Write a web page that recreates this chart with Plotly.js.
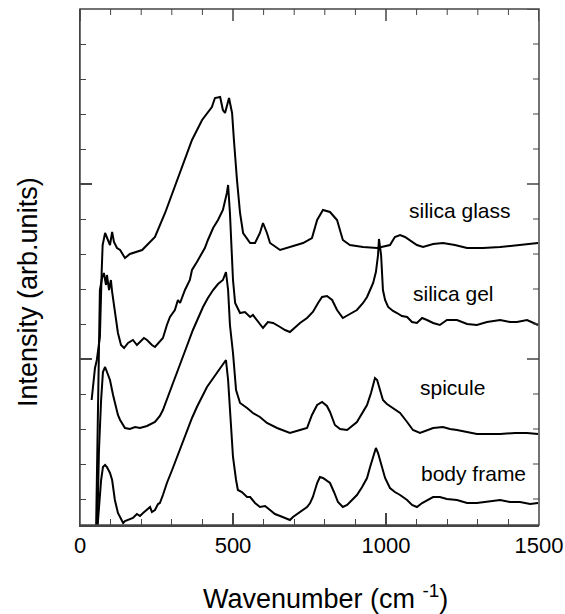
<!DOCTYPE html>
<html>
<head>
<meta charset="utf-8">
<script src="https://cdn.plot.ly/plotly-3.0.1.min.js"></script>
<style>html,body{margin:0;padding:0;background:#fff;}#chart{width:565px;height:614px;}</style>
</head>
<body>
<div id="chart"></div>
<script>
// Wavenumber (cm-1) and intensity (arb. units, offset spectra)
const glassWn = [38,49,55,65,71,74,82,88,92,98,105,111,121,131,147,163,203,245,278,310,333,366,399,431,441,458,467,474,487,497,503,510,513,523,533,556,572,588,598,611,621,654,686,729,758,775,794,817,840,859,882,925,971,1013,1029,1046,1062,1078,1101,1121,1154,1186,1225,1265,1317,1373,1438,1497];
const glassI  = [134,166,174,197,264,289,301,296,294,289,302,292,286,284,276,280,284,297,321,347,367,394,414,427,436,437,424,421,436,421,394,364,354,321,301,291,291,301,311,301,291,284,287,291,296,314,324,322,314,294,289,287,286,289,297,299,297,294,289,287,290,291,289,286,286,287,289,291];

const gelWn = [52,65,72,78,85,88,95,101,105,114,124,134,144,157,173,186,196,209,219,235,245,261,271,284,294,310,320,327,343,359,366,382,399,408,418,435,451,467,480,484,490,500,507,523,539,556,565,582,598,614,631,654,670,686,703,719,742,761,778,791,807,824,840,859,882,905,925,938,948,958,967,974,977,984,990,997,1007,1023,1036,1052,1069,1085,1101,1118,1134,1154,1176,1199,1232,1265,1297,1330,1373,1405,1428,1461,1497];
const gelI  = [-6,244,256,261,249,259,244,254,242,224,201,189,186,191,194,189,192,196,194,189,187,192,196,209,217,224,234,231,244,254,264,272,281,286,294,306,314,324,341,349,321,254,231,221,222,217,219,212,206,212,211,207,204,202,207,211,216,222,231,237,238,234,224,216,220,224,231,237,244,251,262,279,295,279,244,234,227,223,221,218,217,212,211,216,214,211,209,214,214,210,209,212,214,212,212,214,209];

const spicWn = [56,62,69,75,82,88,98,108,114,124,131,147,163,180,196,219,245,261,271,288,304,320,337,353,369,386,402,418,435,451,467,477,484,490,500,510,523,546,565,588,611,644,686,719,742,758,775,791,807,817,833,850,873,905,925,938,951,964,971,980,990,1003,1023,1046,1069,1088,1111,1134,1154,1186,1209,1232,1265,1297,1373,1422,1461,1497];
const spicI  = [-1,84,134,162,167,162,154,139,131,119,114,106,105,107,106,108,112,118,124,139,151,164,177,191,204,216,227,236,244,250,254,262,244,209,181,144,131,126,121,117,111,106,101,104,106,119,129,132,128,122,109,105,104,112,122,129,141,156,154,145,134,130,126,121,112,104,101,104,106,107,105,104,102,100,100,101,101,100];

const bodyWn = [49,56,62,69,75,82,88,98,105,114,124,131,141,147,157,173,186,196,206,219,229,235,245,255,261,271,284,301,317,333,350,366,382,399,415,431,448,458,467,477,484,490,500,510,516,529,546,556,572,588,605,621,637,654,670,686,696,713,729,742,752,761,775,784,794,807,817,830,843,859,873,889,905,922,938,948,958,967,974,984,997,1013,1029,1046,1069,1085,1101,1118,1134,1154,1176,1199,1232,1265,1297,1340,1373,1405,1438,1471,1497];
const bodyI  = [-26,4,29,54,67,69,67,61,54,34,21,17,11,13,14,16,20,18,21,24,27,22,24,30,31,39,51,64,77,91,104,116,127,137,147,154,161,166,170,174,154,124,77,54,44,42,37,37,31,27,28,24,20,18,16,14,17,21,24,27,31,37,51,57,56,53,51,42,32,27,29,34,39,47,56,67,78,86,81,69,56,46,42,39,34,29,27,31,34,37,37,35,34,31,31,33,34,32,32,30,31];

const seriesNames = ["silica glass","silica gel","spicule","body frame"];
const labelWn = [1242,1221,1216,1286];
const labelI  = [324,241,147,61];

const xTickVals = [0,500,1000,1500];
const xMinorTicks = [100,200,300,400,600,700,800,900,1100,1200,1300,1400];
const xRange = [0,1500];
const yRange = [9,525];
const yMajorTicks = [175,350,525];
const yMinorTicks = [35,70,105,140,210,245,280,315,385,420,455,490];

const lineStyle = {color:'#000', width:2};
const traces = [
  {x:glassWn, y:glassI, name:seriesNames[0]},
  {x:gelWn, y:gelI, name:seriesNames[1]},
  {x:spicWn, y:spicI, name:seriesNames[2]},
  {x:bodyWn, y:bodyI, name:seriesNames[3]}
].map(t => Object.assign(t, {type:'scatter', mode:'lines', line:lineStyle, hoverinfo:'skip'}));

const font = {family:'"Liberation Sans", Arial, sans-serif', color:'#000'};
const annotations = seriesNames.map((n,i)=>({
  x:labelWn[i], y:labelI[i], xref:'x', yref:'y', text:n, showarrow:false,
  xanchor:'center', yanchor:'middle', font:Object.assign({}, font, {size:21})
}));
annotations.push({
  xref:'paper', yref:'paper', x:0, y:0.4516, xshift:-52, text:'Intensity (arb.units)',
  textangle:-90, showarrow:false, xanchor:'center', yanchor:'middle',
  font:Object.assign({}, font, {size:27})
});
annotations.push({
  xref:'paper', yref:'paper', x:0.5, y:0, yshift:-72, xshift:16, text:'Wavenumber (cm <sup>-1</sup>)',
  showarrow:false, xanchor:'center', yanchor:'middle',
  font:Object.assign({}, font, {size:27})
});

const axCol = '#444';
// tick marks on top and right edges, placed from the axis tick arrays through the axis scales
const shapes = [];
xTickVals.concat(xMinorTicks).forEach(v => {
  const len = xTickVals.includes(v) ? 12 : 6;
  shapes.push({type:'line', xref:'x', yref:'paper', x0:v, x1:v, y0:1, y1:1, ysizemode:'pixel',
    yanchor:1, y0:0, y1:-len, line:{color:axCol, width:len===12?1.5:1}});
});
yMajorTicks.concat(yMinorTicks).forEach(v => {
  const len = yMajorTicks.includes(v) ? 12 : 6;
  shapes.push({type:'line', xref:'paper', yref:'y', xsizemode:'pixel', xanchor:1, x0:0, x1:-len,
    y0:v, y1:v, line:{color:axCol, width:len===12?1.5:1}});
});
// frame
shapes.push({type:'rect', xref:'paper', yref:'paper', x0:0, x1:1, y0:0, y1:1,
  line:{color:axCol, width:1.5}, fillcolor:'rgba(0,0,0,0)', layer:'above'});

const layout = {
  width:565, height:614,
  margin:{l:80, r:26, t:9, b:89},
  paper_bgcolor:'#fff', plot_bgcolor:'#fff',
  showlegend:false,
  font:font,
  xaxis:{
    range:xRange, tickvals:xTickVals, ticks:'inside', ticklen:12, tickwidth:1.5, tickcolor:axCol,
    showline:true, linecolor:axCol, linewidth:1.5, showgrid:false, zeroline:false,
    tickfont:Object.assign({}, font, {size:22}),
    minor:{tickvals:xMinorTicks, ticks:'inside', ticklen:6, tickwidth:1, tickcolor:axCol, showgrid:false}
  },
  yaxis:{
    range:yRange, tickvals:yMajorTicks, ticks:'inside', ticklen:12, tickwidth:1.5, tickcolor:axCol,
    showticklabels:false, showline:true, linecolor:axCol, linewidth:1.5,
    showgrid:false, zeroline:false,
    minor:{tickvals:yMinorTicks, ticks:'inside', ticklen:6, tickwidth:1, tickcolor:axCol, showgrid:false}
  },
  shapes:shapes,
  annotations:annotations
};

Plotly.newPlot('chart', traces, layout, {staticPlot:true, displayModeBar:false});
</script>
</body>
</html>
